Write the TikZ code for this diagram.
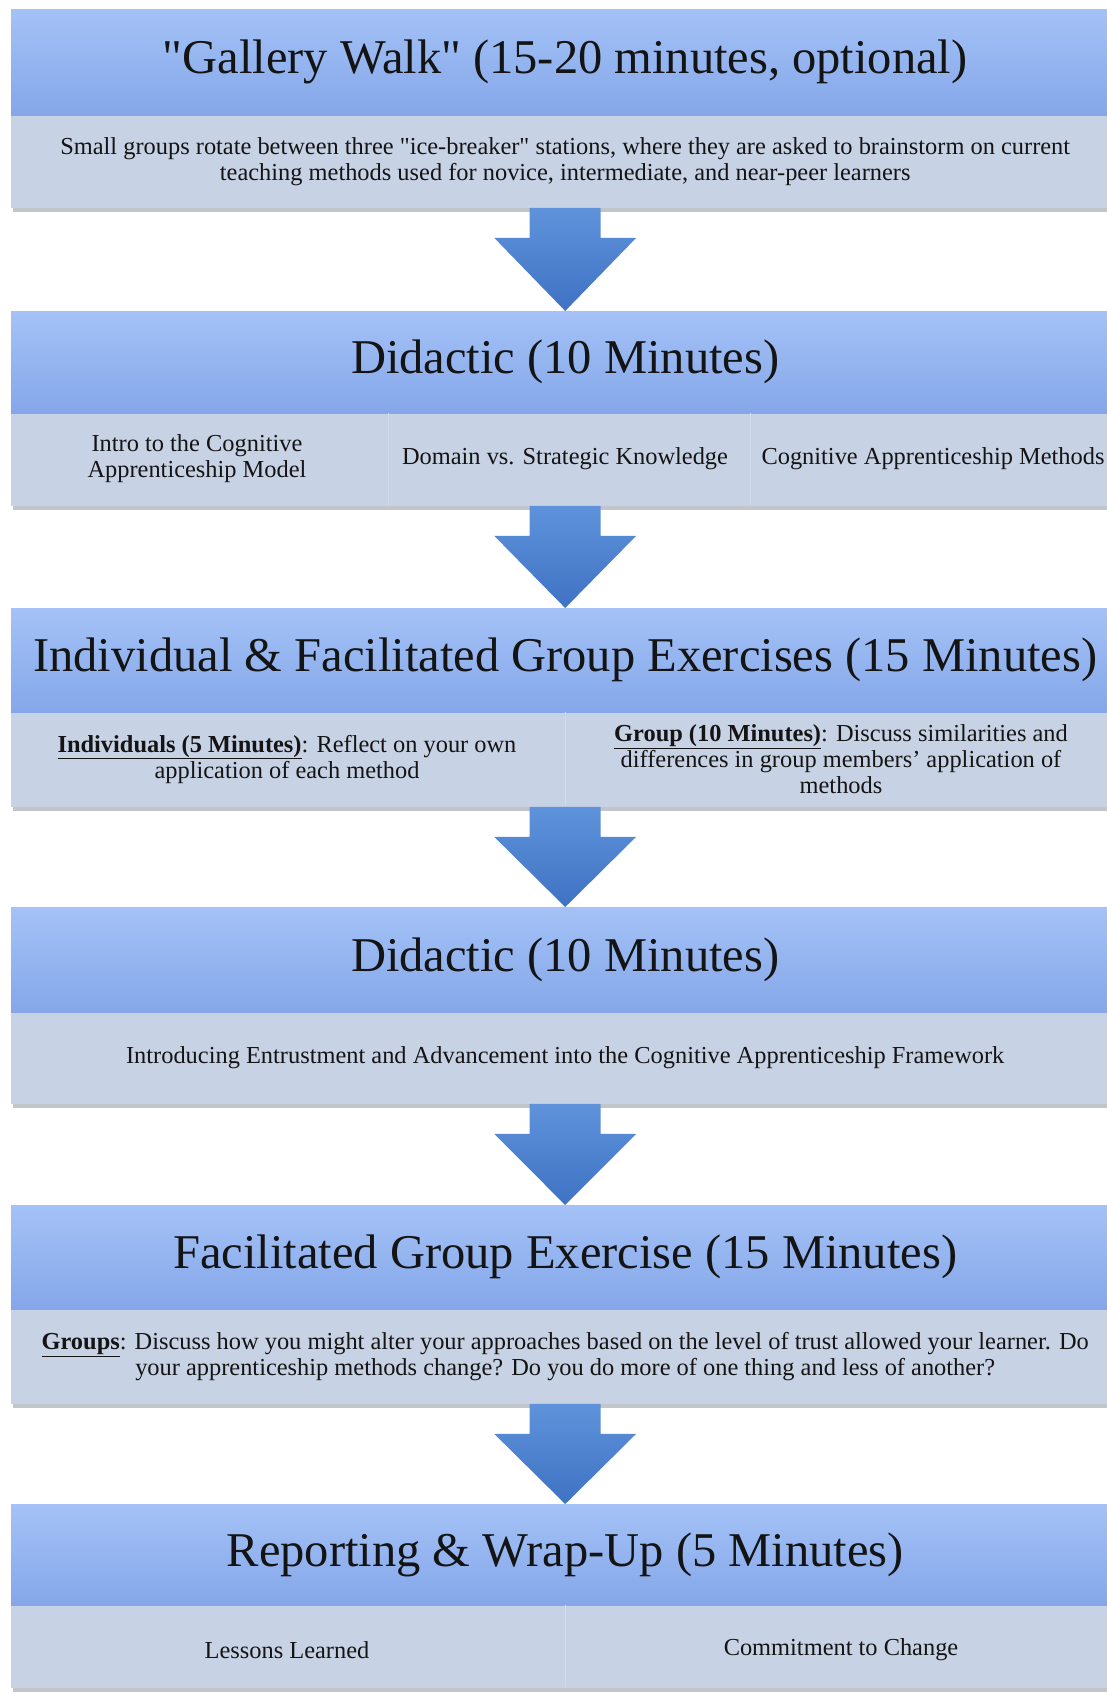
\documentclass[tikz,border=0pt]{standalone}
\usepackage{fontspec}
\setmainfont[Ligatures=TeXOff]{Liberation Serif}
\usetikzlibrary{calc}
\definecolor{headtop}{HTML}{A4C2F7}
\definecolor{headbot}{HTML}{85A7E9}
\definecolor{bodyfill}{HTML}{C8D2E5}
\definecolor{arrtop}{HTML}{5E93DB}
\definecolor{arrbot}{HTML}{3F72C3}
\definecolor{divline}{HTML}{D3DBEA}
\definecolor{shadowc}{HTML}{9A9FA8}
\begin{document}
\begin{tikzpicture}[x=1pt,y=1pt,
  head/.style={anchor=north west, minimum width=1108pt, inner sep=0pt,
    top color=headtop, bottom color=headbot,
    font=\fontsize{48.5}{58}\selectfont, text=black!92},
  bodybox/.style={anchor=north west, minimum width=1108pt, inner sep=0pt, fill=bodyfill},
  btext/.style={font=\fontsize{24.4}{26}\selectfont, align=center, text=black!92, inner sep=0pt},
  flowarrow/.style={top color=arrtop, bottom color=arrbot},
  divider/.style={draw=divline, line width=1pt},
  shadowbar/.style={fill=shadowc, opacity=0.6}]
\clip (0,0) rectangle (1107,-1697);
\fill[white] (0,0) rectangle (1107,-1697);

% Box 1
\node[head, minimum height=106pt] (h1) at (11,-9) {"Gallery Walk" (15-20 minutes, optional)};
\node[bodybox, minimum height=92pt] (b1) at (h1.south west) {};
\node[btext] (t1) at (b1.center) {Small groups rotate between three "ice-breaker" stations, where they are asked to brainstorm on current\\teaching methods used for novice, intermediate, and near-peer learners};

% Box 2
\node[head, minimum height=102pt] (h2) at (11,-311) {Didactic (10 Minutes)};
\node[bodybox, minimum height=92pt] (b2) at (h2.south west) {};
\node[btext] (t2a) at (197,-459) {Intro to the Cognitive\\Apprenticeship Model};
\node[btext] (t2b) at (565,-459) {Domain vs. Strategic Knowledge};
\node[btext] (t2c) at (933,-459) {Cognitive Apprenticeship Methods};
\draw[divider] (388,-413) -- (388,-505);
\draw[divider] (750,-413) -- (750,-505);

% Box 3
\node[head, minimum height=104pt] (h3) at (11,-608) {Individual \& Facilitated Group Exercises (15 Minutes)};
\node[bodybox, minimum height=94pt] (b3) at (h3.south west) {};
\node[btext] (t3a) at (287,-759) {\underline{\textbf{Individuals (5 Minutes)}}: Reflect on your own\\application of each method};
\node[btext] (t3b) at (841,-759) {\underline{\textbf{Group (10 Minutes)}}: Discuss similarities and\\differences in group members’ application of\\methods};
\draw[divider] (565,-712) -- (565,-806);

% Box 4
\node[head, minimum height=105pt] (h4) at (11,-907) {Didactic (10 Minutes)};
\node[bodybox, minimum height=91pt] (b4) at (h4.south west) {};
\node[btext] (t4) at (b4.center) {Introducing Entrustment and Advancement into the Cognitive Apprenticeship Framework};

% Box 5
\node[head, minimum height=104pt] (h5) at (11,-1205) {Facilitated Group Exercise (15 Minutes)};
\node[bodybox, minimum height=94pt] (b5) at (h5.south west) {};
\node[btext] (t5) at (b5.center) {\underline{\textbf{Groups}}: Discuss how you might alter your approaches based on the level of trust allowed your learner. Do\\your apprenticeship methods change? Do you do more of one thing and less of another?};

% Box 6
\node[head, minimum height=101pt] (h6) at (11,-1504) {Reporting \& Wrap-Up (5 Minutes)};
\node[bodybox, minimum height=82pt] (b6) at (h6.south west) {};
\node[btext] (t6a) at (287,-1650) {Lessons Learned};
\node[btext] (t6b) at (841,-1650) {Commitment to Change};
\draw[divider] (565,-1605) -- (565,-1687);

% shadows under body boxes
\foreach \b in {b1,b2,b3,b4,b5,b6}{
  \fill[shadowbar] ($(\b.south west)+(2,0)$) rectangle ($(\b.south east)+(0,-4)$);
}

% arrows
\foreach \b/\h in {b1/h2,b2/h3,b3/h4,b4/h5,b5/h6}{
  \path[flowarrow] ($(\b.south)+(-35.5,0)$) -- ($(\b.south)+(35.5,0)$)
    -- ($(\b.south)+(35.5,-30)$) -- ($(\b.south)+(71,-30)$) -- (\h.north)
    -- ($(\b.south)+(-71,-30)$) -- ($(\b.south)+(-35.5,-30)$) -- cycle;
}
\end{tikzpicture}
\end{document}
